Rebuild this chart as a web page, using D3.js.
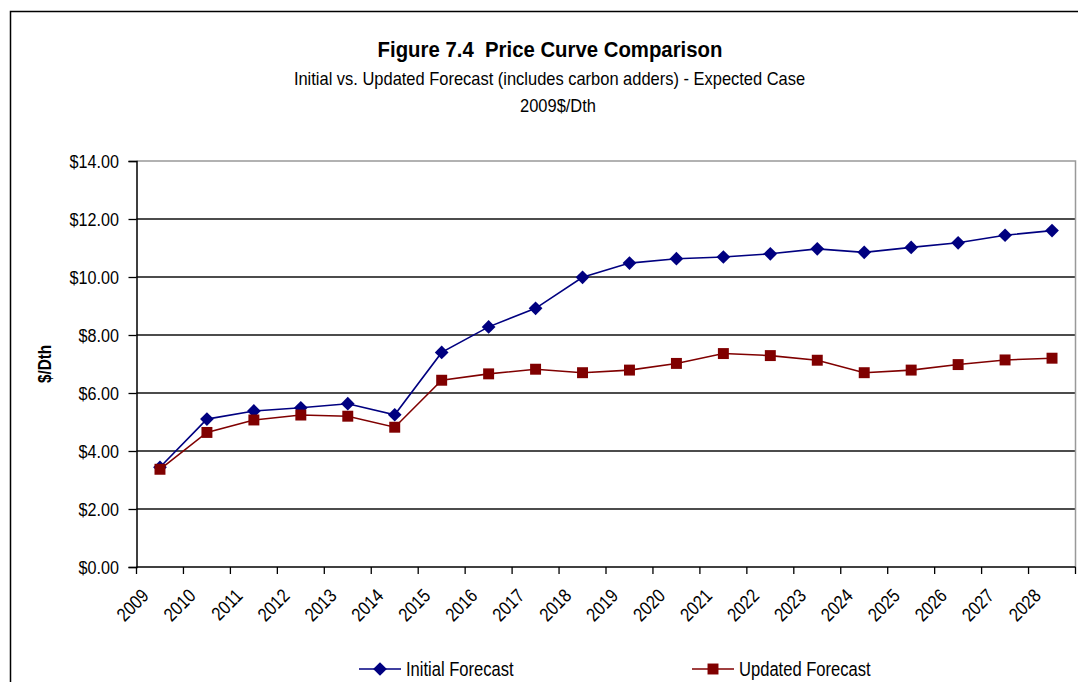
<!DOCTYPE html>
<html>
<head>
<meta charset="utf-8">
<script src="https://cdn.jsdelivr.net/npm/d3@7"></script>
<style>
  html, body { margin: 0; padding: 0; background: #fff; }
  svg { display: block; }
  text { font-family: "Liberation Sans", Arial, sans-serif; fill: #000; }
</style>
</head>
<body>
<svg id="chart" width="1078" height="682"></svg>
<script>
const years = ["2009","2010","2011","2012","2013","2014","2015","2016","2017","2018",
               "2019","2020","2021","2022","2023","2024","2025","2026","2027","2028"];
const initialForecast = [3.44, 5.10, 5.38, 5.49, 5.63, 5.25, 7.40, 8.28, 8.92, 9.99,
                         10.48, 10.63, 10.69, 10.80, 10.97, 10.85, 11.02, 11.18, 11.44, 11.60];
const updatedForecast = [3.37, 4.64, 5.07, 5.24, 5.20, 4.82, 6.44, 6.66, 6.82, 6.70,
                         6.79, 7.02, 7.36, 7.29, 7.13, 6.70, 6.79, 6.98, 7.14, 7.20];
const yTicks = [0, 2, 4, 6, 8, 10, 12, 14];
const seriesNames = ["Initial Forecast", "Updated Forecast"];
const titleText = "Figure 7.4  Price Curve Comparison";
const subtitleLines = ["Initial vs. Updated Forecast (includes carbon adders) - Expected Case", "2009$/Dth"];
const yAxisTitle = "$/Dth";

const svg = d3.select("#chart");
const plot = { left: 136.5, right: 1075.5, top: 161, bottom: 567 };
const colors = ["#000080", "#800000"];
const NARROW = 0.85;

// helper: narrow-looking text via horizontal scaling
function addText(parent, px, py, str, opt) {
  const o = Object.assign({ size: 18, weight: "normal", anchor: "start", sx: NARROW, rotate: 0 }, opt || {});
  const g = parent.append("g")
    .attr("transform", `translate(${px},${py}) rotate(${o.rotate}) scale(${o.sx},1)`);
  g.append("text").attr("text-anchor", o.anchor).attr("font-size", o.size)
    .attr("font-weight", o.weight).attr("xml:space", "preserve").text(str);
  return g;
}

// outer frame
svg.append("rect").attr("x", 10.5).attr("y", 11.5).attr("width", 1200).attr("height", 800)
  .attr("fill", "none").attr("stroke", "#000").attr("stroke-width", 1.5);

const x = d3.scaleBand().domain(years).range([plot.left, plot.right]).padding(0);
const y = d3.scaleLinear().domain([0, 14]).range([plot.bottom, plot.top]);

// gridlines
svg.append("g").selectAll("line").data(yTicks.filter(t => t > 0 && t < 14)).join("line")
  .attr("x1", plot.left).attr("x2", plot.right)
  .attr("y1", d => y(d)).attr("y2", d => y(d))
  .attr("stroke", "#111").attr("stroke-width", 1.4);

// plot border top & right (gray)
svg.append("path")
  .attr("d", `M${plot.left},${y(14)}H${plot.right}V${plot.bottom}`)
  .attr("fill", "none").attr("stroke", "#999").attr("stroke-width", 1.5);

// y axis
const yAxis = d3.axisLeft(y).tickValues(yTicks).tickSize(8).tickFormat(() => "");
const gy = svg.append("g").attr("transform", `translate(${plot.left},0)`).call(yAxis);
gy.select(".domain").attr("stroke", "#000").attr("stroke-width", 1.5);
gy.selectAll(".tick line").attr("stroke", "#000").attr("stroke-width", 1.3);
yTicks.forEach(t => {
  addText(svg, 119, y(t) + 6.8, "$" + d3.format(".2f")(t), { size: 19, anchor: "end" });
});

// x axis with ticks at category boundaries
const gx = svg.append("g").attr("transform", `translate(0,${plot.bottom})`);
gx.append("line").attr("x1", plot.left).attr("x2", plot.right).attr("y1", 0).attr("y2", 0)
  .attr("stroke", "#000").attr("stroke-width", 1.5);
const boundaries = years.map(d => x(d)).concat([x(years[years.length - 1]) + x.bandwidth()]);
gx.selectAll("line.tk").data(boundaries).join("line").attr("class", "tk")
  .attr("x1", d => d).attr("x2", d => d).attr("y1", 0).attr("y2", 7)
  .attr("stroke", "#000").attr("stroke-width", 1.3);
years.forEach(d => {
  addText(svg, x(d) + x.bandwidth() / 2 - 10, plot.bottom + 30, d, { size: 19, anchor: "end", rotate: -45 });
});

// y axis title
addText(svg, 51, (plot.top + plot.bottom) / 2, yAxisTitle,
  { size: 18, weight: "bold", anchor: "middle", rotate: -90 });

// titles
addText(svg, 550, 56.5, titleText, { size: 23, weight: "bold", anchor: "middle", sx: 0.885 });
addText(svg, 549.5, 84.5, subtitleLines[0], { size: 18.5, anchor: "middle", sx: 0.89 });
addText(svg, 558, 111.5, subtitleLines[1], { size: 18.5, anchor: "middle", sx: 0.89 });

// series
const series = [initialForecast, updatedForecast];
const line = d3.line().x((d, i) => x(years[i]) + x.bandwidth() / 2).y(d => y(d));
const diamond = d3.symbol().type(d3.symbolDiamond2).size(120);
const square = d3.symbol().type(d3.symbolSquare).size(120);

series.forEach((vals, si) => {
  svg.append("path").datum(vals).attr("d", line)
    .attr("fill", "none").attr("stroke", colors[si]).attr("stroke-width", 1.6);
  svg.append("g").selectAll("path").data(vals).join("path")
    .attr("transform", (d, i) => `translate(${x(years[i]) + x.bandwidth() / 2},${y(d)})`)
    .attr("d", si === 0 ? diamond : square)
    .attr("fill", colors[si]);
});

// legend
const legendItems = [
  { name: seriesNames[0], x0: 359, color: colors[0], sym: diamond },
  { name: seriesNames[1], x0: 692, color: colors[1], sym: square }
];
const ly = 669;
legendItems.forEach(it => {
  svg.append("line").attr("x1", it.x0).attr("x2", it.x0 + 42).attr("y1", ly).attr("y2", ly)
    .attr("stroke", it.color).attr("stroke-width", 1.6);
  svg.append("path").attr("transform", `translate(${it.x0 + 21},${ly})`).attr("d", it.sym).attr("fill", it.color);
  addText(svg, it.x0 + 47, ly + 7, it.name, { size: 19.5 });
});
</script>
</body>
</html>
